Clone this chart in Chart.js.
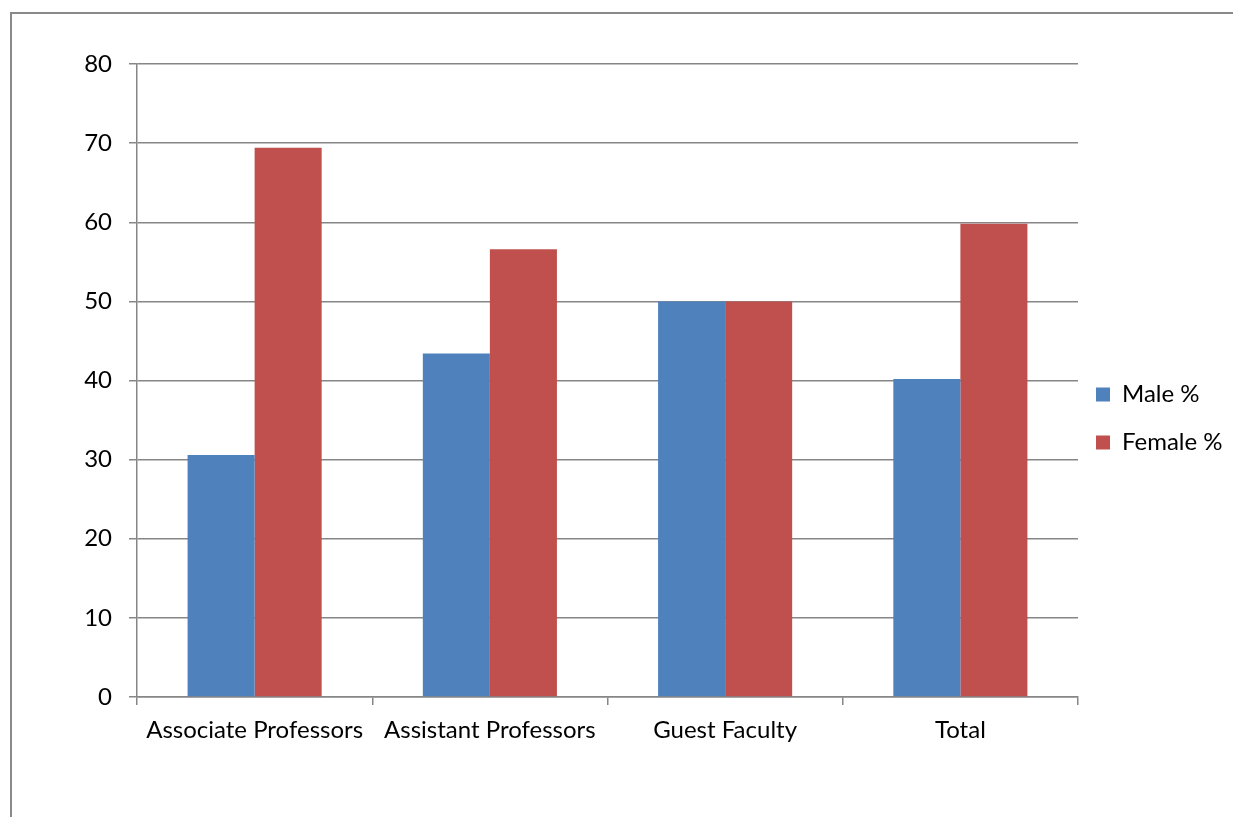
<!DOCTYPE html>
<html>
<head>
<meta charset="utf-8">
<script src="https://cdn.jsdelivr.net/npm/chart.js@4/dist/chart.umd.min.js"></script>
<style>
  body { margin: 0; background: #fff; overflow: hidden; }
  .frame { position: absolute; left: 10px; top: 12px; width: 1240px; height: 820px; border: 2px solid #8a8a8a; box-sizing: border-box; }
  #chart { position: absolute; left: 10px; top: 12px; }
</style>
</head>
<body>
<div class="frame"></div>
<canvas id="chart" width="1223" height="805"></canvas>
<script>
const categories = ['Associate Professors', 'Assistant Professors', 'Guest Faculty', 'Total'];
const maleValues = [30.6, 43.4, 50, 40.2];
const femaleValues = [69.4, 56.6, 50, 59.8];
const yTicks = [0, 10, 20, 30, 40, 50, 60, 70, 80];

Chart.defaults.font.family = 'Lato, "Noto Sans", sans-serif';
Chart.defaults.font.size = 24;
Chart.defaults.color = '#000000';

const gridGray = '#868686';

// keep the legend box a fixed width so the plot area ends where the original does,
// then nudge it up/left a little to sit like the original
const fixLegend = {
  id: 'fixLegend',
  afterInit(chart) {
    const lg = chart.legend;
    const fit = lg.fit.bind(lg);
    lg.fit = function() {
      fit();
      this.width = 155;
    };
  },
  afterLayout(chart) {
    const lg = chart.legend;
    lg.top -= 22; lg.bottom -= 22;
    lg.left -= 6; lg.right -= 6;
  }
};

new Chart('chart', {
  type: 'bar',
  data: {
    labels: categories,
    datasets: [
      { label: 'Male %', data: maleValues, backgroundColor: '#4F81BD' },
      { label: 'Female %', data: femaleValues, backgroundColor: '#C0504D' }
    ]
  },
  options: {
    responsive: false,
    animation: false,
    categoryPercentage: 0.57,
    barPercentage: 1,
    layout: { padding: { top: 52, left: 0, right: 0, bottom: 0 } },
    plugins: {
      legend: {
        position: 'right',
        labels: { boxWidth: 14, boxHeight: 14, padding: 24, color: '#000' }
      },
      tooltip: { enabled: false }
    },
    scales: {
      x: {
        grid: { offset: true, drawOnChartArea: false, drawTicks: true, tickLength: 8, color: gridGray, lineWidth: 1.5 },
        border: { color: gridGray, width: 1.5 },
        ticks: { padding: 11, maxRotation: 0, autoSkip: false },
        afterFit(s) { s.height = 120; }
      },
      y: {
        min: 0,
        max: 80,
        afterBuildTicks(s) { s.ticks = yTicks.map(v => ({ value: v })); },
        grid: { color: gridGray, lineWidth: 1.5, tickLength: 8 },
        border: { color: gridGray, width: 1.5 },
        ticks: { padding: 17 },
        afterFit(s) { s.width = 127; }
      }
    }
  },
  plugins: [fixLegend]
});
</script>
</body>
</html>
